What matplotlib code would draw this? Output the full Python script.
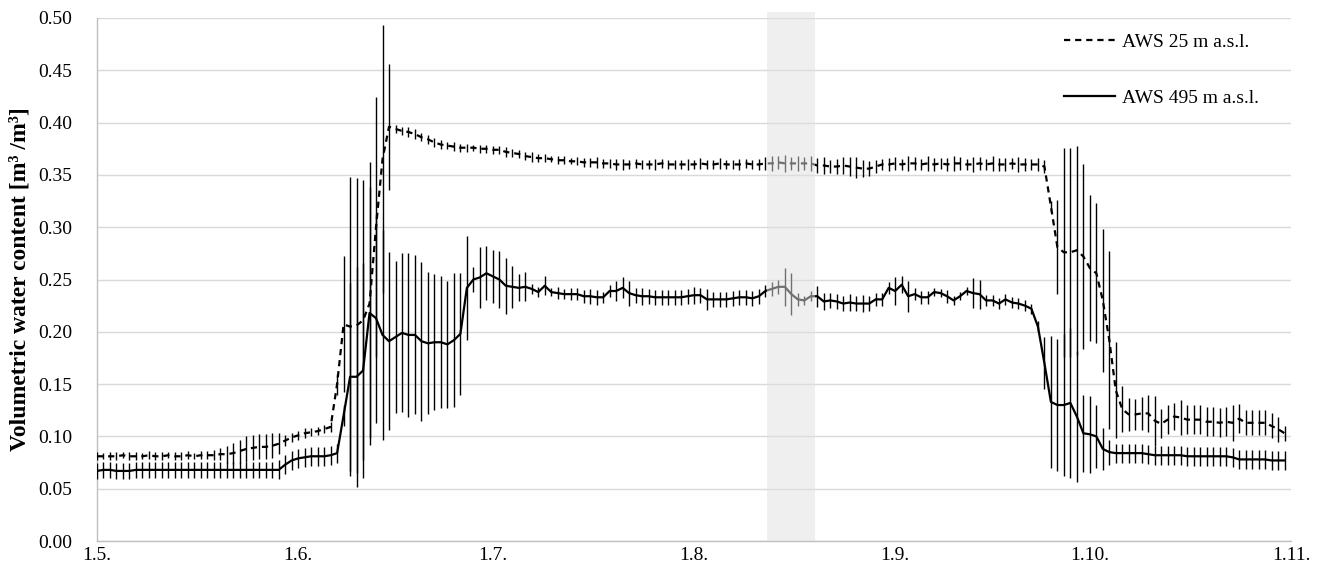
import numpy as np
import matplotlib
matplotlib.use("Agg")
from matplotlib import pyplot as plt

# daily means, 1 May - 31 Oct (one value per day)
aws25 = (
    # May
    [0.081, 0.081, 0.081, 0.081, 0.082, 0.081, 0.081, 0.081, 0.082, 0.081,
     0.081, 0.082, 0.081, 0.081, 0.082, 0.081, 0.082, 0.082, 0.082, 0.083,
     0.083, 0.084, 0.086, 0.088, 0.089, 0.090, 0.090, 0.091, 0.093, 0.096, 0.099]
    # June
    + [0.101, 0.103, 0.104, 0.105, 0.107, 0.109, 0.150, 0.207, 0.205, 0.206,
       0.211, 0.227, 0.300, 0.365, 0.396, 0.394, 0.392, 0.391, 0.389, 0.386,
       0.384, 0.381, 0.379, 0.378, 0.377, 0.376, 0.376, 0.376, 0.375, 0.375]
    # July
    + [0.374, 0.374, 0.372, 0.371, 0.370, 0.368, 0.367, 0.366, 0.366, 0.365,
       0.364, 0.364, 0.363, 0.363, 0.362, 0.362, 0.362, 0.361, 0.361, 0.360,
       0.360, 0.360, 0.361, 0.360, 0.360, 0.360, 0.361, 0.360, 0.360, 0.360, 0.360]
    # August
    + [0.360, 0.361, 0.360, 0.360, 0.361, 0.360, 0.360, 0.360, 0.361, 0.360,
       0.360, 0.361, 0.361, 0.362, 0.361, 0.361, 0.361, 0.361, 0.361, 0.359,
       0.359, 0.358, 0.358, 0.359, 0.358, 0.357, 0.356, 0.356, 0.358, 0.360, 0.360]
    # September
    + [0.361, 0.360, 0.361, 0.361, 0.360, 0.361, 0.360, 0.361, 0.360, 0.361,
       0.361, 0.360, 0.360, 0.361, 0.360, 0.361, 0.360, 0.360, 0.361, 0.360,
       0.360, 0.360, 0.360, 0.358, 0.320, 0.281, 0.276, 0.276, 0.278, 0.272]
    # October
    + [0.261, 0.256, 0.230, 0.192, 0.144, 0.126, 0.121, 0.121, 0.122, 0.122,
       0.115, 0.112, 0.116, 0.119, 0.118, 0.116, 0.116, 0.116, 0.114, 0.114,
       0.113, 0.114, 0.113, 0.117, 0.113, 0.113, 0.113, 0.113, 0.110, 0.107, 0.103]
)
err25 = (
    [0.004, 0.003, 0.004, 0.004, 0.003, 0.004, 0.004, 0.003, 0.004, 0.004,
     0.004, 0.003, 0.004, 0.004, 0.004, 0.003, 0.004, 0.004, 0.005, 0.006,
     0.008, 0.010, 0.011, 0.012, 0.012, 0.012, 0.012, 0.012, 0.010, 0.005, 0.004]
    + [0.004, 0.005, 0.004, 0.004, 0.004, 0.005, 0.010, 0.065, 0.143, 0.141,
       0.134, 0.135, 0.124, 0.128, 0.060, 0.004, 0.004, 0.005, 0.005, 0.004,
       0.004, 0.004, 0.004, 0.003, 0.004, 0.004, 0.004, 0.003, 0.004, 0.004]
    + [0.004, 0.004, 0.005, 0.004, 0.004, 0.004, 0.005, 0.004, 0.004, 0.003,
       0.004, 0.004, 0.003, 0.004, 0.004, 0.004, 0.005, 0.004, 0.004, 0.005,
       0.005, 0.004, 0.004, 0.004, 0.004, 0.005, 0.004, 0.004, 0.004, 0.004, 0.005]
    + [0.004, 0.005, 0.004, 0.004, 0.005, 0.004, 0.004, 0.005, 0.004, 0.004,
       0.005, 0.006, 0.007, 0.006, 0.008, 0.006, 0.007, 0.006, 0.007, 0.007,
       0.008, 0.006, 0.007, 0.008, 0.009, 0.010, 0.008, 0.007, 0.006, 0.005, 0.006]
    + [0.006, 0.005, 0.007, 0.006, 0.005, 0.007, 0.006, 0.005, 0.006, 0.007,
       0.006, 0.005, 0.007, 0.006, 0.005, 0.007, 0.006, 0.006, 0.005, 0.007,
       0.006, 0.005, 0.006, 0.006, 0.005, 0.045, 0.100, 0.100, 0.100, 0.088]
    + [0.070, 0.067, 0.068, 0.085, 0.046, 0.022, 0.016, 0.015, 0.016, 0.018,
       0.024, 0.014, 0.014, 0.013, 0.017, 0.014, 0.014, 0.014, 0.014, 0.014,
       0.014, 0.014, 0.017, 0.014, 0.012, 0.012, 0.012, 0.012, 0.012, 0.012, 0.007]
)

aws495 = (
    [0.067, 0.068, 0.068, 0.067, 0.067, 0.067, 0.068, 0.068, 0.068, 0.068,
     0.068, 0.068, 0.068, 0.068, 0.068, 0.068, 0.068, 0.068, 0.068, 0.068,
     0.068, 0.068, 0.068, 0.068, 0.068, 0.068, 0.068, 0.068, 0.068, 0.073, 0.077]
    + [0.079, 0.080, 0.081, 0.081, 0.081, 0.082, 0.084, 0.120, 0.157, 0.157,
       0.163, 0.218, 0.213, 0.197, 0.191, 0.195, 0.199, 0.197, 0.197, 0.191,
       0.189, 0.190, 0.190, 0.188, 0.192, 0.198, 0.242, 0.250, 0.252, 0.256]
    + [0.253, 0.250, 0.244, 0.243, 0.242, 0.243, 0.241, 0.238, 0.244, 0.238,
       0.237, 0.236, 0.236, 0.236, 0.234, 0.234, 0.233, 0.233, 0.239, 0.239,
       0.242, 0.237, 0.235, 0.234, 0.234, 0.233, 0.233, 0.233, 0.233, 0.233, 0.234]
    + [0.235, 0.235, 0.231, 0.231, 0.231, 0.231, 0.232, 0.233, 0.233, 0.232,
       0.234, 0.239, 0.241, 0.243, 0.243, 0.236, 0.231, 0.230, 0.234, 0.234,
       0.229, 0.230, 0.229, 0.227, 0.228, 0.227, 0.227, 0.227, 0.231, 0.231, 0.242]
    + [0.239, 0.245, 0.234, 0.236, 0.233, 0.233, 0.238, 0.237, 0.234, 0.230,
       0.234, 0.239, 0.237, 0.236, 0.230, 0.230, 0.227, 0.231, 0.228, 0.227,
       0.225, 0.222, 0.205, 0.170, 0.133, 0.130, 0.130, 0.132, 0.119, 0.103]
    + [0.102, 0.100, 0.088, 0.085, 0.084, 0.084, 0.084, 0.084, 0.084, 0.083,
       0.082, 0.082, 0.082, 0.082, 0.082, 0.081, 0.081, 0.081, 0.081, 0.081,
       0.081, 0.081, 0.080, 0.078, 0.078, 0.078, 0.078, 0.078, 0.077, 0.077, 0.077]
)
err495 = (
    [0.008, 0.008, 0.008, 0.008, 0.008, 0.008, 0.008, 0.008, 0.008, 0.008,
     0.008, 0.008, 0.008, 0.008, 0.008, 0.008, 0.008, 0.008, 0.008, 0.008,
     0.008, 0.008, 0.008, 0.008, 0.008, 0.008, 0.008, 0.008, 0.009, 0.009, 0.009]
    + [0.009, 0.009, 0.009, 0.009, 0.009, 0.009, 0.009, 0.010, 0.090, 0.105,
       0.103, 0.120, 0.100, 0.100, 0.085, 0.073, 0.076, 0.078, 0.076, 0.076,
       0.068, 0.065, 0.063, 0.061, 0.064, 0.058, 0.050, 0.012, 0.029, 0.026]
    + [0.025, 0.027, 0.027, 0.020, 0.013, 0.014, 0.005, 0.005, 0.009, 0.004,
       0.006, 0.005, 0.006, 0.006, 0.006, 0.007, 0.007, 0.005, 0.006, 0.010,
       0.010, 0.012, 0.007, 0.008, 0.007, 0.007, 0.007, 0.007, 0.007, 0.007, 0.007]
    + [0.008, 0.007, 0.010, 0.007, 0.007, 0.007, 0.007, 0.007, 0.007, 0.007,
       0.007, 0.006, 0.007, 0.007, 0.018, 0.020, 0.006, 0.004, 0.005, 0.010,
       0.008, 0.007, 0.007, 0.007, 0.008, 0.007, 0.008, 0.007, 0.006, 0.006, 0.006]
    + [0.013, 0.008, 0.015, 0.006, 0.006, 0.006, 0.004, 0.004, 0.006, 0.004,
       0.004, 0.004, 0.014, 0.014, 0.005, 0.005, 0.005, 0.005, 0.005, 0.005,
       0.005, 0.005, 0.005, 0.025, 0.063, 0.063, 0.068, 0.072, 0.063, 0.037]
    + [0.037, 0.030, 0.020, 0.012, 0.009, 0.009, 0.009, 0.009, 0.009, 0.009,
       0.009, 0.009, 0.009, 0.009, 0.009, 0.009, 0.009, 0.009, 0.009, 0.009,
       0.009, 0.009, 0.009, 0.009, 0.009, 0.009, 0.009, 0.009, 0.009, 0.009, 0.009]
)

month_labels = ["1.5.", "1.6.", "1.7.", "1.8.", "1.9.", "1.10.", "1.11."]
month_starts = [0, 31, 61, 92, 123, 153, 184]   # day offsets from 1 May
highlight = (103.2, 110.6)                       # shaded period (days)

for arr in (aws25, err25, aws495, err495):
    assert len(arr) == 184, len(arr)

days = np.arange(len(aws25))

plt.rcParams.update({
    "font.family": ["Liberation Serif", "DejaVu Serif"],
    "font.size": 14,
})

fig = plt.figure(figsize=(13.2, 5.8), dpi=100)
ax = fig.add_axes([97 / 1320, 39 / 580, 1194 / 1320, 523 / 580])

# error bars, no caps
ax.errorbar(days, aws25, yerr=err25, fmt="none", ecolor="black",
            elinewidth=1, capsize=0, zorder=3)
ax.errorbar(days, aws495, yerr=err495, fmt="none", ecolor="black",
            elinewidth=1, capsize=0, zorder=3)

ax.plot(days, aws25, color="black", lw=1.6, linestyle=(0, (2.8, 2.2)),
        label="AWS 25 m a.s.l.", zorder=4)
ax.plot(days, aws495, color="black", lw=1.6, label="AWS 495 m a.s.l.", zorder=4)

# semi-transparent grey band laid over the lines
ax.axvspan(highlight[0], highlight[1], ymin=0, ymax=1.012, color="#e0e0e0",
           alpha=0.5, lw=0, zorder=6, clip_on=False)

ax.set_xlim(0, 184)
ax.set_ylim(0, 0.5)
ax.set_yticks(np.arange(0, 0.501, 0.05))
ax.set_yticklabels([f"{v:.2f}" for v in np.arange(0, 0.501, 0.05)])
ax.set_xticks(month_starts)
ax.set_xticklabels(month_labels)
ax.tick_params(axis="both", length=0, labelsize=14)
ax.tick_params(axis="y", pad=18)
ax.tick_params(axis="x", pad=4)

ax.grid(axis="y", color="#d9d9d9", lw=1)
ax.set_axisbelow(True)
for side in ["top", "right"]:
    ax.spines[side].set_visible(False)
for side in ["left", "bottom"]:
    ax.spines[side].set_color("#bfbfbf")
    ax.spines[side].set_linewidth(1)

ax.set_ylabel("Volumetric water content [m³ /m³]", fontweight="bold", fontsize=17)
ax.yaxis.set_label_coords(-0.056, 0.5)

ax.legend(loc="upper left", bbox_to_anchor=(1064 / 1320, 1 - 33 / 580),
          bbox_transform=fig.transFigure, frameon=False, fontsize=14,
          handlelength=2.6, handletextpad=0.4, labelspacing=2.0,
          borderpad=0, borderaxespad=0)

plt.savefig("out.png", dpi=100)
plt.close()
